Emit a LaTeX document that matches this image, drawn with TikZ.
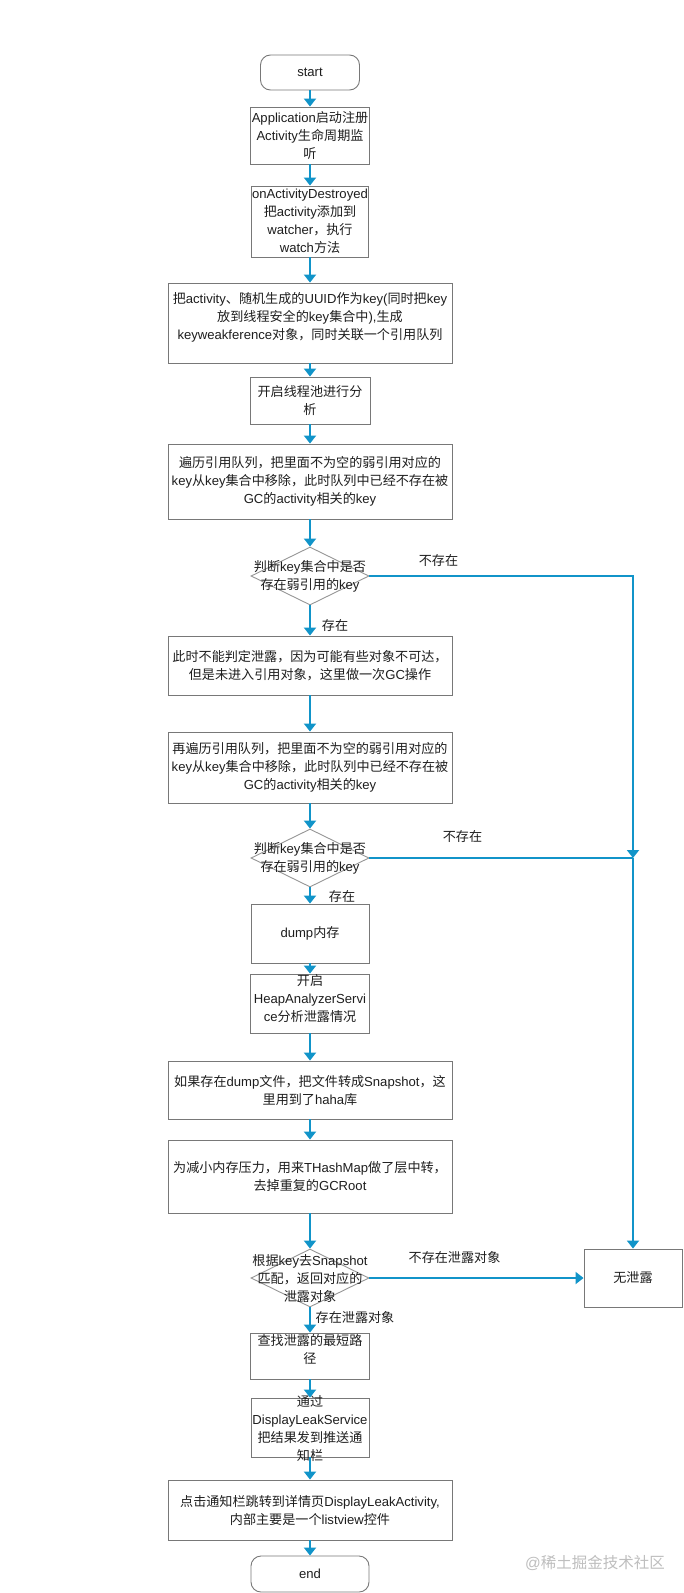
\documentclass[tikz,border=0pt]{standalone}
\usepackage{fontspec}
\setmainfont{Liberation Sans}
\newfontfamily\cjkf{Noto Sans CJK SC}
\newfontfamily\latf{Liberation Sans}
\usetikzlibrary{arrows.meta,shapes.geometric}
\XeTeXinterchartokenstate=1
\newXeTeXintercharclass\CJKclass
\newcount\cjkcnt
\cjkcnt="3000
\loop
  \XeTeXcharclass\cjkcnt=\CJKclass
  \advance\cjkcnt by 1
\ifnum\cjkcnt<"A000 \repeat
\cjkcnt="FF00
\loop
  \XeTeXcharclass\cjkcnt=\CJKclass
  \advance\cjkcnt by 1
\ifnum\cjkcnt<"FFF0 \repeat
\XeTeXinterchartoks 0 \CJKclass = {\cjkf}
\XeTeXinterchartoks 4095 \CJKclass = {\cjkf}
\XeTeXinterchartoks \CJKclass 0 = {\latf}
\XeTeXinterchartoks 4095 0 = {\latf}
\definecolor{flowblue}{RGB}{17,148,201}
\definecolor{boxgray}{RGB}{120,120,120}
\definecolor{diagray}{RGB}{150,150,150}
\definecolor{txtgray}{RGB}{30,30,30}
\definecolor{wmgray}{RGB}{190,190,190}
\tikzset{
  base/.style={font=\fontsize{13.1}{18}\selectfont, text=txtgray},
  box/.style={base, draw=boxgray, line width=0.9pt, align=center, inner sep=0pt},
  term/.style={box, rounded corners=10pt},
  dia/.style={diamond, draw=diagray, line width=0.9pt, inner sep=0pt, minimum width=118pt, minimum height=58pt},
  txt/.style={base, align=center, inner sep=0pt},
  lab/.style={base, inner sep=0pt},
  flow/.style={draw=flowblue, line width=1.9pt, -{Triangle[width=12pt,length=8pt]}},
  plain/.style={draw=flowblue, line width=1.9pt},
  wm/.style={font=\fontsize{15.5}{18}\selectfont, text=wmgray, inner sep=0pt},
}
\begin{document}
\begin{tikzpicture}[x=1pt,y=-1pt]
\fill[white] (0,0) rectangle (684,1593);
\useasboundingbox (0,0) rectangle (684,1593);

\node[term, minimum width=99pt, minimum height=35pt] (start) at (310,72.5) {start};
\node[box, minimum width=119pt, minimum height=57pt] (b1) at (310,135.5) {Application启动注册\\Activity生命周期监\\听};
\node[box, minimum width=117pt, minimum height=71pt] (b2) at (310,221.5) {onActivityDestroyed\\把activity添加到\\watcher，执行\\watch方法};
\node[box, minimum width=284pt, minimum height=80pt] (b3) at (310,323) {};
\node[txt] (b3t) at (310,317) {把activity、随机生成的UUID作为key(同时把key\\放到线程安全的key集合中),生成\\keyweakference对象，同时关联一个引用队列};
\node[box, minimum width=120pt, minimum height=47pt] (b4) at (310,400.5) {开启线程池进行分\\析};
\node[box, minimum width=284pt, minimum height=75pt] (b5) at (310,481.5) {遍历引用队列，把里面不为空的弱引用对应的\\key从key集合中移除，此时队列中已经不存在被\\GC的activity相关的key};
\node[dia] (d1) at (310,576) {};
\node[txt] (d1t) at (310,576) {判断key集合中是否\\存在弱引用的key};
\node[box, minimum width=284pt, minimum height=59pt] (b6) at (310,665.5) {此时不能判定泄露，因为可能有些对象不可达，\\但是未进入引用对象，这里做一次GC操作};
\node[box, minimum width=284pt, minimum height=71pt] (b7) at (310,767.5) {再遍历引用队列，把里面不为空的弱引用对应的\\key从key集合中移除，此时队列中已经不存在被\\GC的activity相关的key};
\node[dia] (d2) at (310,858) {};
\node[txt] (d2t) at (310,858) {判断key集合中是否\\存在弱引用的key};
\node[box, minimum width=118pt, minimum height=59pt] (b8) at (310,933.5) {dump内存};
\node[box, minimum width=119pt, minimum height=59pt] (b9) at (310,1003.5) {};
\node[txt] (b9t) at (310,999) {开启\\HeapAnalyzerServi\\ce分析泄露情况};
\node[box, minimum width=284pt, minimum height=58pt] (b10) at (310,1090) {如果存在dump文件，把文件转成Snapshot，这\\里用到了haha库};
\node[box, minimum width=284pt, minimum height=73pt] (b11) at (310,1176.5) {为减小内存压力，用来THashMap做了层中转，\\去掉重复的GCRoot};
\node[dia] (d3) at (310,1278) {};
\node[txt] (d3t) at (310,1278) {根据key去Snapshot\\匹配，返回对应的\\泄露对象};
\node[box, minimum width=119pt, minimum height=46pt] (b12) at (310,1356) {};
\node[txt] (b12t) at (310,1349) {查找泄露的最短路\\径};
\node[box, minimum width=118pt, minimum height=59pt] (b13) at (310,1427.5) {};
\node[txt] (b13t) at (310,1428.5) {通过\\DisplayLeakService\\把结果发到推送通\\知栏};
\node[box, minimum width=284pt, minimum height=60pt] (b14) at (310,1510) {点击通知栏跳转到详情页DisplayLeakActivity,\\内部主要是一个listview控件};
\node[term, minimum width=118pt, minimum height=36pt] (end) at (310,1574) {end};
\node[box, minimum width=98pt, minimum height=58pt] (nol) at (633,1278) {无泄露};

\node[lab] (l1) at (438.5,560.7) {不存在};
\node[lab] (l2) at (335,626) {存在};
\node[lab] (l3) at (462.5,837) {不存在};
\node[lab] (l4) at (342,897) {存在};
\node[lab] (l5) at (454.5,1257) {不存在泄露对象};
\node[lab] (l6) at (355,1317) {存在泄露对象};
\node[wm] (wm) at (595,1563) {@稀土掘金技术社区};

\draw[flow] (start.south) -- (b1.north);
\draw[flow] (b1.south) -- (b2.north);
\draw[flow] (b2.south) -- (b3.north);
\draw[flow] (b3.south) -- (b4.north);
\draw[flow] (b4.south) -- (b5.north);
\draw[flow] (b5.south) -- (d1.north);
\draw[flow] (d1.south) -- (b6.north);
\draw[flow] (b6.south) -- (b7.north);
\draw[flow] (b7.south) -- (d2.north);
\draw[flow] (d2.south) -- (b8.north);
\draw[flow] (b8.south) -- (b9.north);
\draw[flow] (b9.south) -- (b10.north);
\draw[flow] (b10.south) -- (b11.north);
\draw[flow] (b11.south) -- (d3.north);
\draw[flow] (d3.south) -- (b12.north);
\draw[flow] (b12.south) -- (b13.north);
\draw[flow] (b13.south) -- (b14.north);
\draw[flow] (b14.south) -- (end.north);

\coordinate (j1) at (633,576);
\coordinate (j2) at (633,858);
\draw[flow] (d1.east) -- (j1) -- (j2);
\draw[plain] (d2.east) -- (j2);
\draw[flow] (j2) -- (nol.north);
\draw[flow] (d3.east) -- (nol.west);
\end{tikzpicture}
\end{document}
